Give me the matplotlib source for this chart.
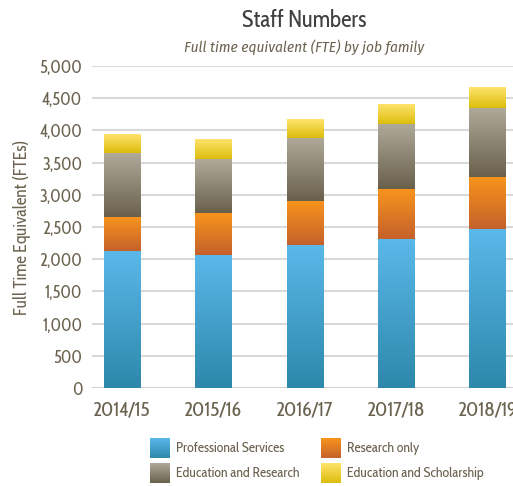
import numpy as np
import matplotlib
matplotlib.use("Agg")
import matplotlib.pyplot as plt
from matplotlib.colors import LinearSegmentedColormap
from matplotlib.ticker import FuncFormatter

FONT = ["Cabin Condensed", "DejaVu Sans"]
FONT_IT = ["Fira Sans Condensed", "DejaVu Sans"]
plt.rcParams["font.family"] = FONT

years = ["2014/15", "2015/16", "2016/17", "2017/18", "2018/19"]
prof_services = [2127, 2065, 2220, 2313, 2467]
research_only = [526, 650, 681, 774, 805]
edu_research  = [991, 836, 980, 1011, 1073]
edu_scholar   = [294, 310, 294, 304, 321]

series = [
    ("Professional Services",     prof_services, "#5ab8ea", "#2e88ab"),
    ("Research only",             research_only, "#f7941d", "#c5612b"),
    ("Education and Research",    edu_research,  "#b0aa9b", "#69604c"),
    ("Education and Scholarship", edu_scholar,   "#ffe36c", "#dcbd0c"),
]
TXT = "#6b6350"

W, H = 513, 486
fig = plt.figure(figsize=(W / 100, H / 100), dpi=100)
ax = fig.add_axes([92 / W, 1 - 388 / H, 1 - 92 / W, (388 - 66) / H])

grad = np.linspace(0, 1, 256).reshape(-1, 1)
x = np.arange(len(years))
bottom = np.zeros(len(years))
for name, vals, top_c, bot_c in series:
    cmap = LinearSegmentedColormap.from_list(name, [bot_c, top_c])
    bars = ax.bar(x, vals, 0.395, bottom=bottom, color="none", zorder=3)
    for b in bars:
        x0, y0 = b.get_x(), b.get_y()
        ax.imshow(grad, cmap=cmap, origin="lower", aspect="auto",
                  extent=[x0, x0 + b.get_width(), y0, y0 + b.get_height()],
                  zorder=3)
    bottom += np.array(vals)

ax.set_xlim(-0.33, 4.28)
ax.set_ylim(0, 5000)
ax.set_yticks(range(0, 5001, 500))
ax.yaxis.set_major_formatter(FuncFormatter(lambda v, p: f"{int(v):,}"))
ax.set_xticks(x)
ax.set_xticklabels(years)
ax.grid(axis="y", color="#d9d9d9", lw=1.5, zorder=0)
ax.set_axisbelow(True)
for s in ax.spines.values():
    s.set_visible(False)
ax.axhline(0, color="#d0d0d0", lw=2, zorder=2)
ax.tick_params(length=0, colors=TXT, labelsize=12.5, pad=7)
ax.tick_params(axis="x", labelsize=14.5, pad=9)
ax.set_ylabel("Full Time Equivalent (FTEs)", color=TXT, fontsize=12.5, labelpad=6)

fig.text(304 / W, 1 - 21 / H, "Staff Numbers", ha="center", va="center",
         fontsize=16.5, color="#404040")
fig.text(304 / W, 1 - 47 / H, "Full time equivalent (FTE) by job family",
         ha="center", va="center", fontsize=11, color=TXT, style="italic",
         family=FONT_IT)

# legend drawn on an overlay in pixel coordinates
lax = fig.add_axes([0, 0, 1, 1])
lax.axis("off")
lpos = [(150, 438), (321, 438), (150, 463), (321, 463)]
for (name, vals, top_c, bot_c), (lx, ly) in zip(series, lpos):
    cmap = LinearSegmentedColormap.from_list(name, [bot_c, top_c])
    lax.imshow(grad, cmap=cmap, origin="lower", aspect="auto",
               extent=[lx, lx + 20, ly + 20, ly])
    lax.text(lx + 26, ly + 10, name, va="center", ha="left",
             fontsize=10, color=TXT)
lax.set_xlim(0, W)
lax.set_ylim(H, 0)

fig.savefig("out.png", dpi=100, facecolor="white")
